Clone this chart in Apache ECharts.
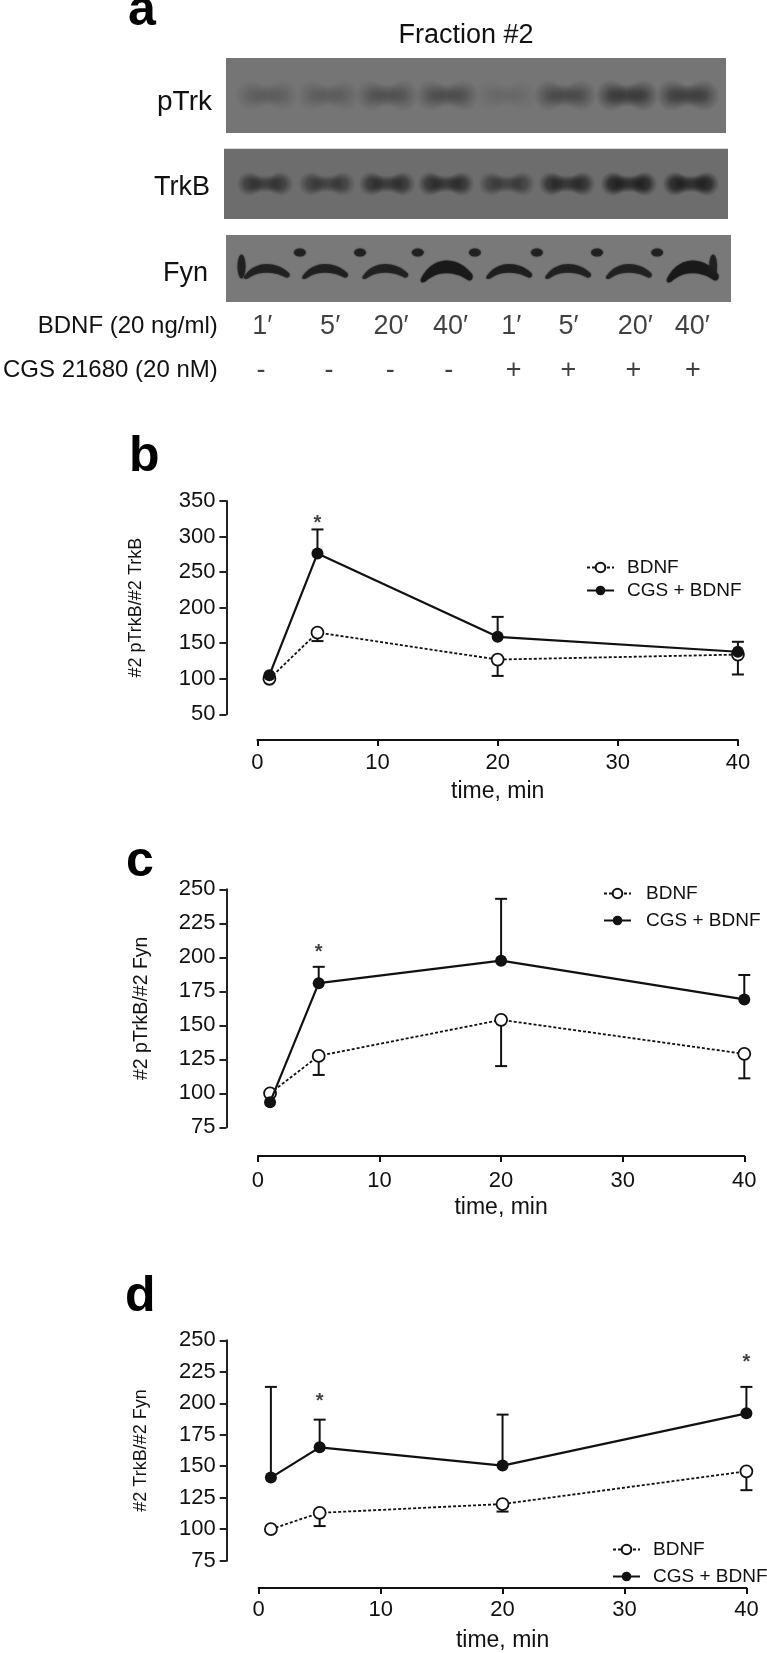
<!DOCTYPE html>
<html><head><meta charset="utf-8">
<style>html,body{margin:0;padding:0;background:#fff}#c{width:767px;height:1653px}</style>
<script src="https://cdn.jsdelivr.net/npm/echarts@6/dist/echarts.min.js"></script>
</head><body><div id="c"></div>
<script>
// ---------- values ----------
const times = [1, 5, 20, 40];
const seriesNames = ['BDNF', 'CGS + BDNF'];
// panel b
const bBDNF = [100, 165, 127, 134];
const bCGS = [105, 276, 159, 138];
const bBDNFLow = [null, 153, 104, 106];
const bCGSHigh = [null, 310, 187, 152];
const bStars = [[5, 323]];
// panel c
const cBDNF = [100, 127.5, 154, 129];
const cCGS = [93.5, 181, 197.5, 169];
const cBDNFLow = [null, 113.5, 120, 111];
const cCGSHigh = [null, 193, 243, 187];
const cStars = [[5, 206]];
// panel d
const dBDNF = [100, 113, 120, 146];
const dCGS = [141, 165, 150.5, 192];
const dBDNFLow = [null, 102.5, 114, 131];
const dCGSHigh = [213, 187, 191, 213];
const dStars = [[5, 204], [40, 235]];
// blot (panel a): band centre along the lane scale, and darkness
const pTrkLanes = [0.97, 1.99, 2.97, 3.97, 4.95, 5.93, 6.96, 7.97];
const pTrkDark = [.2, .2, .3, .34, .1, .38, .55, .5];
const trkBLanes = [0.94, 1.97, 2.97, 3.95, 4.96, 5.96, 6.99, 8.02];
const trkBDark = [.6, .52, .66, .7, .5, .74, .9, .9];
const fynLanes = [0.97, 1.94, 2.94, 3.96, 5.0, 5.98, 6.99, 8.05];
const fynDark = [.85, .88, .85, 1, .9, .85, .85, 1];
const fynSpots = [1.52, 2.52, 3.48, 4.43, 5.46, 6.46, 7.46];
const fynHooks = [0.55, 8.39];
const timeLabels = ['1′', '5′', '20′', '40′', '1′', '5′', '20′', '40′'];
const timeLabelLanes = [0.82, 1.96, 2.98, 3.98, 5.0, 5.96, 7.08, 8.04];
const signs = ['-', '-', '-', '-', '+', '+', '+', '+'];
const signLanes = [0.8, 1.94, 2.97, 3.95, 5.04, 5.96, 7.05, 8.05];
const rowNames = ['CGS 21680 (20 nM)', 'BDNF (20 ng/ml)'];

// ---------- layout ----------
const FONT = '"Liberation Sans", Arial, sans-serif';
const INK = '#111';
const grid = [], xAxis = [], yAxis = [], series = [], legend = [], title = [];

const laneOrigin = 268.6, laneStep = 60.15;
function blotGrid(name, left, right, top, bottom, bg, labelRight) {
  const i = grid.length;
  grid.push({left, top, width: right - left, height: bottom - top, show: !!bg, backgroundColor: bg || 'transparent', borderWidth: 0});
  xAxis.push({gridIndex: i, type: 'value', show: false, min: 1 + (left - laneOrigin) / laneStep, max: 1 + (right - laneOrigin) / laneStep});
  yAxis.push({gridIndex: i, type: 'category', data: name, axisLine: {show: false}, axisTick: {show: false}, splitLine: {show: false},
    axisLabel: {show: !!labelRight, fontFamily: FONT, fontSize: 24, color: INK, margin: labelRight ? left - labelRight : 0}});
  return i;
}
const arch = 'path://M2,30 C15,10 35,4 50,4 C65,4 85,10 98,24 C100,30 96,34 90,32 C75,24 62,22 50,22 C38,22 25,24 10,34 C5,36 0,36 2,30 Z';
// a soft band is a row of radially fading blobs: big ones at the ends, smaller towards the centre
function softBands(i, lanes, dark, blobs, hold) {
  blobs.forEach(([dx, size, weight]) => {
    series.push({type: 'scatter', xAxisIndex: i, yAxisIndex: i, silent: true, z: 2, symbolSize: size, symbolOffset: [dx, 0],
      data: lanes.map((x, k) => {
        const a = dark[k] * weight;
        return {value: [x, 0], itemStyle: {color: {type: 'radial', x: .5, y: .5, r: .5, colorStops: [
          {offset: 0, color: `rgba(15,15,15,${a})`}, {offset: hold, color: `rgba(15,15,15,${a})`}, {offset: 1, color: 'rgba(15,15,15,0)'}]}}};
      })});
  });
}

let g = blotGrid(['pTrk'], 226, 726, 58, 133, '#757575');
softBands(g, pTrkLanes, pTrkDark, [[-16, 32, 1], [16, 32, 1], [-8, 26, .5], [8, 26, .5], [-4, 24, .4], [4, 24, .4], [0, 24, .4]], .2);
g = blotGrid(['TrkB'], 224, 728, 148.7, 219, '#6d6d6d');
softBands(g, trkBLanes, trkBDark, [[-16, 25, .8], [16, 25, .8], [-12, 22, .4], [12, 22, .4], [-8, 19, .4], [8, 19, .4], [-4, 18, .4], [4, 18, .4], [0, 18, .4]], .4);
g = blotGrid(['Fyn'], 226, 731, 235, 302, '#797979');
series.push({type: 'scatter', xAxisIndex: g, yAxisIndex: g, silent: true, z: 2, symbol: arch, symbolOffset: [0, 3],
  data: fynLanes.map((x, k) => ({value: [x, 0], symbolSize: fynDark[k] >= 1 ? [52, 22] : [46, 15], itemStyle: {
    color: `rgba(18,18,18,${fynDark[k]})`, shadowBlur: 2, shadowColor: 'rgba(18,18,18,.8)'}}))});
series.push({type: 'scatter', xAxisIndex: g, yAxisIndex: g, silent: true, z: 2, symbolSize: [12, 8], symbolOffset: [0, -16],
  itemStyle: {color: '#1c1c1c', shadowBlur: 2, shadowColor: '#222'}, data: fynSpots.map(x => [x, 0])});
series.push({type: 'scatter', xAxisIndex: g, yAxisIndex: g, silent: true, z: 2, symbolSize: [8, 24], symbolOffset: [0, -2],
  itemStyle: {color: '#1c1c1c', shadowBlur: 2, shadowColor: '#222'}, data: fynHooks.map(x => [x, 0])});

g = blotGrid(rowNames, 226, 726, 305, 392, null, 213);
const textMark = (text, x, row, size) => ({value: [x, row], label: {show: true, formatter: text, position: 'inside', fontFamily: FONT, fontSize: size, color: INK}});
series.push({type: 'scatter', xAxisIndex: g, yAxisIndex: g, silent: true, symbolSize: 1, itemStyle: {color: 'transparent'},
  data: timeLabels.map((t, k) => textMark(t, timeLabelLanes[k], 1, 27)).concat(signs.map((t, k) => textMark(t, signLanes[k], 0, 27)))});

function panel(o) {
  const i = grid.length;
  grid.push({left: o.x0, top: o.top, width: o.x40 - o.x0, height: o.bottom - o.top});
  xAxis.push({gridIndex: i, type: 'value', min: 0, max: 40, interval: 10, position: 'bottom', offset: o.xOff,
    name: 'time, min', nameLocation: 'middle', nameGap: o.xGap, nameTextStyle: {fontFamily: FONT, fontSize: 23, color: INK},
    axisLine: {onZero: false, lineStyle: {color: INK, width: 2}}, axisTick: {length: 6, lineStyle: {color: INK, width: 2}},
    splitLine: {show: false}, axisLabel: {fontFamily: FONT, fontSize: 22, color: INK, margin: o.xMargin}});
  yAxis.push({gridIndex: i, type: 'value', min: o.min, max: o.max, interval: o.step, position: 'left', offset: o.yOff,
    name: o.yName, nameLocation: 'middle', nameGap: o.yGap, nameTextStyle: {fontFamily: FONT, fontSize: o.yFont, color: INK},
    axisLine: {show: true, onZero: false, lineStyle: {color: '#222', width: 2}}, axisTick: {show: true, length: 7, lineStyle: {color: '#222', width: 2}},
    splitLine: {show: false}, axisLabel: {fontFamily: FONT, fontSize: 22, color: INK, margin: 11}});
  const errs = (vals, bound, w) => ({
    type: 'custom', xAxisIndex: i, yAxisIndex: i, z: 3, silent: true, clip: false,
    data: times.map((t, k) => [t, vals[k], bound[k]]).filter(d => d[2] !== null),
    renderItem: (p, api) => {
      const a = api.coord([api.value(0), api.value(1)]), b = api.coord([api.value(0), api.value(2)]);
      const s = {stroke: '#111', lineWidth: w};
      return {type: 'group', children: [
        {type: 'line', shape: {x1: a[0], y1: a[1], x2: b[0], y2: b[1]}, style: s},
        {type: 'line', shape: {x1: b[0] - 6, y1: b[1], x2: b[0] + 6, y2: b[1]}, style: s}]};
    }});
  series.push(errs(o.open, o.openLow, 2), errs(o.fill, o.fillHigh, 2));
  const pts = v => times.map((t, k) => [t, v[k]]);
  series.push({name: seriesNames[0], type: 'line', xAxisIndex: i, yAxisIndex: i, z: 4, clip: false, data: pts(o.open),
    symbol: 'circle', symbolSize: 12, showSymbol: true, lineStyle: {color: '#111', width: 1.8, type: [3, 2]},
    itemStyle: {color: '#fff', borderColor: '#111', borderWidth: 1.8}});
  series.push({name: seriesNames[1], type: 'line', xAxisIndex: i, yAxisIndex: i, z: 5, clip: false, data: pts(o.fill),
    symbol: 'circle', symbolSize: 12, showSymbol: true, lineStyle: {color: '#111', width: 2.2},
    itemStyle: {color: '#111', borderColor: '#111', borderWidth: 0}});
  series.push({type: 'scatter', xAxisIndex: i, yAxisIndex: i, z: 6, silent: true, clip: false, symbolSize: 1, itemStyle: {color: 'transparent'},
    data: o.stars.map(s => ({value: s, label: {show: true, formatter: '*', position: 'inside', offset: [0, 3], fontFamily: FONT, fontWeight: 'bold', fontSize: 20, color: INK}}))});
  legend.push({data: seriesNames, selectedMode: false, orient: 'vertical', left: o.legX, top: o.legY, itemGap: o.legGap, itemWidth: 27, itemHeight: 12,
    padding: 0, textStyle: {fontFamily: FONT, fontSize: 19, color: INK, padding: [0, 0, 0, o.legPad]}});
}
panel({x0: 257.4, x40: 737.9, top: 501, bottom: 714.3, min: 50, max: 350, step: 50, xOff: 25.7, yOff: 31, xGap: 40, xMargin: 12, yGap: 81, yFont: 18,
  yName: '#2 pTrkB/#2 TrkB', open: bBDNF, fill: bCGS, openLow: bBDNFLow, fillHigh: bCGSHigh, stars: bStars, legX: 586, legY: 558, legGap: 4, legPad: 8});
panel({x0: 257.9, x40: 744.3, top: 889.3, bottom: 1127.3, min: 75, max: 250, step: 25, xOff: 28.7, yOff: 31.5, xGap: 40, xMargin: 14, yGap: 75, yFont: 19.5,
  yName: '#2 pTrkB/#2 Fyn', open: cBDNF, fill: cCGS, openLow: cBDNFLow, fillHigh: cCGSHigh, stars: cStars, legX: 603, legY: 884, legGap: 8, legPad: 10});
panel({x0: 258.7, x40: 746.4, top: 1340.3, bottom: 1567.7, min: 75, max: 250, step: 25, xOff: 27.3, yOff: 32, xGap: 41, xMargin: 11, yGap: 77, yFont: 18,
  yName: '#2 TrkB/#2 Fyn', open: dBDNF, fill: dCGS, openLow: dBDNFLow, fillHigh: dCGSHigh, stars: dStars, legX: 612, legY: 1540, legGap: 8, legPad: 8});

title.push({text: 'Fraction #2', left: 466, top: 22, textAlign: 'center', padding: 0, textStyle: {fontFamily: FONT, fontSize: 27, fontWeight: 'normal', color: INK}});
[['pTrk', 212, 88, 28], ['TrkB', 210, 174, 27], ['Fyn', 208, 260, 27]].forEach(([t, left, top, size]) =>
  title.push({text: t, left, top, textAlign: 'right', padding: 0, textStyle: {fontFamily: FONT, fontSize: size, fontWeight: 'normal', color: INK}}));
[['a', 128, -14], ['b', 129, 432], ['c', 126, 837], ['d', 125, 1272]].forEach(([t, left, top]) =>
  title.push({text: t, left, top, padding: 0, textStyle: {fontFamily: FONT, fontSize: 50, fontWeight: 'bold', color: '#000'}}));

echarts.init(document.getElementById('c'), null, {renderer: 'canvas', width: 767, height: 1653}).setOption({
  animation: false, backgroundColor: '#fff', title, legend, grid, xAxis, yAxis, series
});
</script></body></html>
